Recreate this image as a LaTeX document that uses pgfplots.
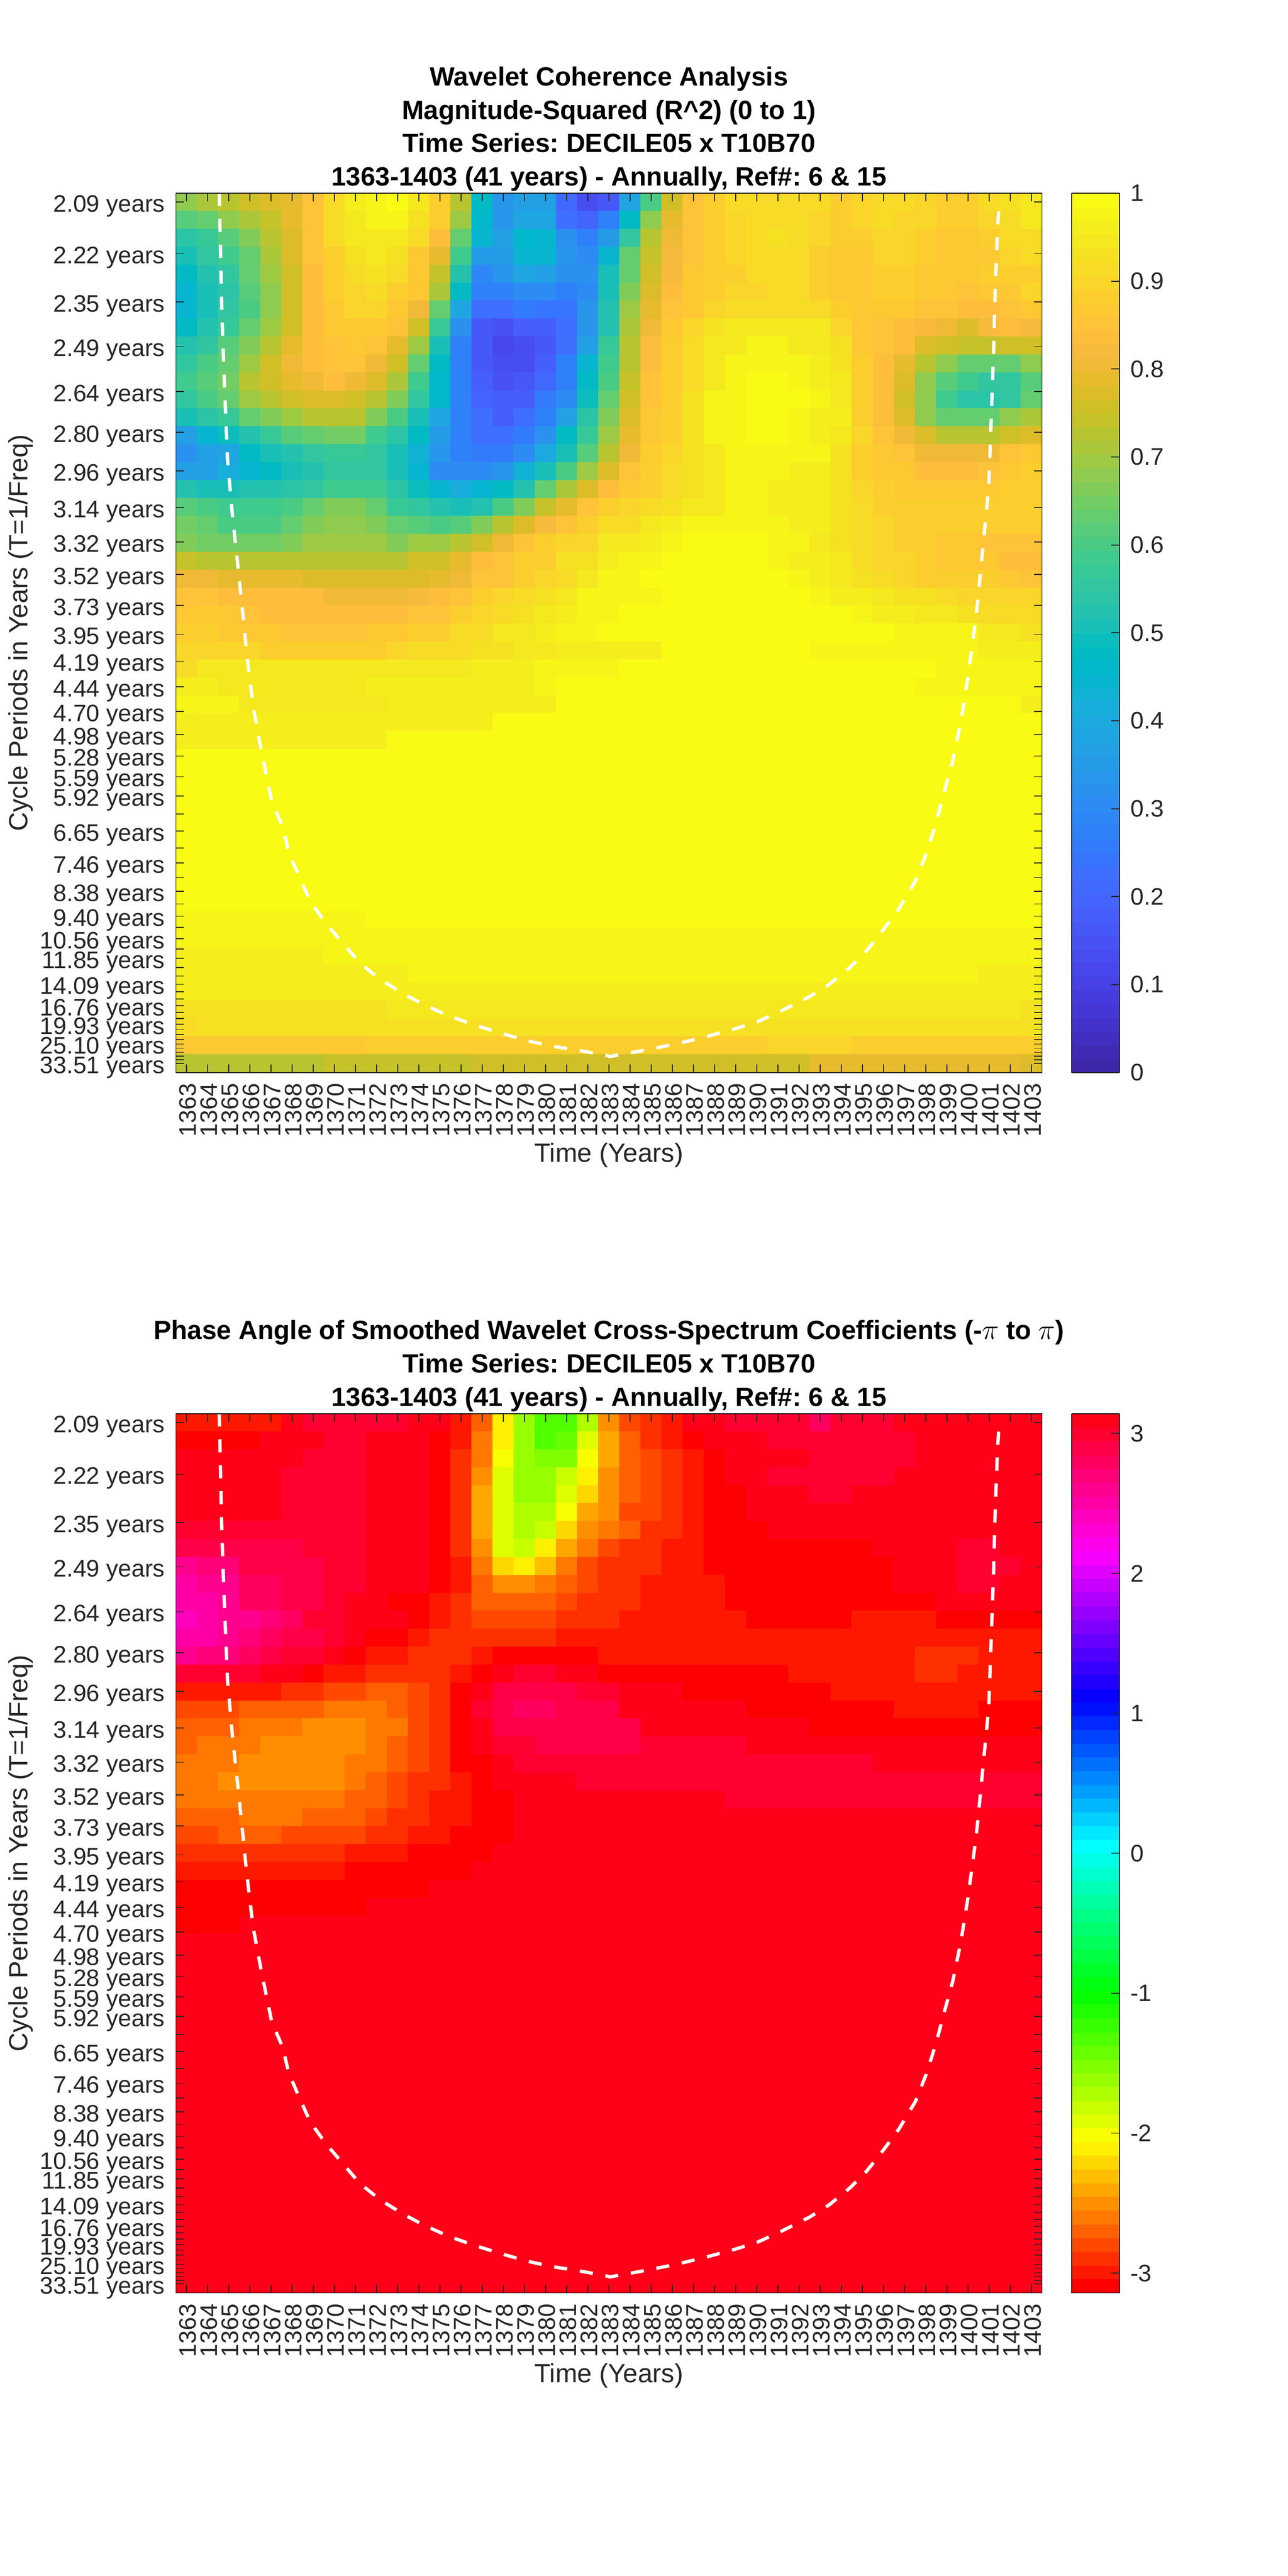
\documentclass[border=0pt]{standalone}
\usepackage{fontspec}
\setmainfont{Liberation Sans}
\usepackage{pgfplots}
\usepackage{pgfplotstable}
\pgfplotsset{compat=1.18}
\definecolor{tk}{RGB}{38,38,38}
\pgfplotsset{colormap={par}{
rgb=(0.2422,0.1504,0.6603) rgb=(0.2504,0.1650,0.7076) rgb=(0.2578,0.1818,0.7511) rgb=(0.2647,0.1978,0.7952)
rgb=(0.2706,0.2147,0.8364) rgb=(0.2751,0.2342,0.8710) rgb=(0.2783,0.2559,0.8991) rgb=(0.2803,0.2782,0.9221)
rgb=(0.2813,0.3006,0.9414) rgb=(0.2810,0.3228,0.9579) rgb=(0.2795,0.3447,0.9717) rgb=(0.2760,0.3667,0.9829)
rgb=(0.2699,0.3892,0.9906) rgb=(0.2602,0.4123,0.9952) rgb=(0.2440,0.4358,0.9988) rgb=(0.2206,0.4603,0.9973)
rgb=(0.1963,0.4847,0.9892) rgb=(0.1834,0.5074,0.9798) rgb=(0.1786,0.5289,0.9682) rgb=(0.1764,0.5499,0.9520)
rgb=(0.1687,0.5703,0.9359) rgb=(0.1540,0.5902,0.9218) rgb=(0.1460,0.6091,0.9079) rgb=(0.1380,0.6276,0.8973)
rgb=(0.1248,0.6459,0.8883) rgb=(0.1113,0.6635,0.8763) rgb=(0.0952,0.6798,0.8598) rgb=(0.0689,0.6948,0.8394)
rgb=(0.0297,0.7082,0.8163) rgb=(0.0036,0.7203,0.7917) rgb=(0.0067,0.7312,0.7660) rgb=(0.0433,0.7411,0.7394)
rgb=(0.0964,0.7500,0.7120) rgb=(0.1408,0.7584,0.6842) rgb=(0.1717,0.7670,0.6554) rgb=(0.1938,0.7758,0.6251)
rgb=(0.2161,0.7843,0.5923) rgb=(0.2470,0.7918,0.5567) rgb=(0.2906,0.7973,0.5188) rgb=(0.3406,0.8008,0.4789)
rgb=(0.3909,0.8029,0.4354) rgb=(0.4456,0.8024,0.3909) rgb=(0.5044,0.7993,0.3480) rgb=(0.5616,0.7942,0.3045)
rgb=(0.6174,0.7876,0.2612) rgb=(0.6720,0.7793,0.2227) rgb=(0.7242,0.7698,0.1910) rgb=(0.7738,0.7598,0.1646)
rgb=(0.8203,0.7498,0.1535) rgb=(0.8634,0.7406,0.1596) rgb=(0.9035,0.7330,0.1774) rgb=(0.9393,0.7288,0.2100)
rgb=(0.9728,0.7298,0.2394) rgb=(0.9956,0.7434,0.2371) rgb=(0.9970,0.7659,0.2199) rgb=(0.9952,0.7861,0.1991)
rgb=(0.9892,0.8086,0.1766) rgb=(0.9786,0.8336,0.1630) rgb=(0.9676,0.8587,0.1490) rgb=(0.9610,0.8837,0.1350)
rgb=(0.9597,0.9088,0.1220) rgb=(0.9628,0.9338,0.1080) rgb=(0.9691,0.9589,0.0950) rgb=(0.9769,0.9839,0.0805)}}
\pgfplotsset{colormap={hsvs}{
rgb255=(255,0,0) rgb255=(255,24,0) rgb255=(255,48,0) rgb255=(255,72,0) rgb255=(255,96,0) rgb255=(255,120,0) rgb255=(255,143,0) rgb255=(255,167,0)
rgb255=(255,191,0) rgb255=(255,215,0) rgb255=(255,239,0) rgb255=(247,255,0) rgb255=(223,255,0) rgb255=(199,255,0) rgb255=(175,255,0) rgb255=(151,255,0)
rgb255=(128,255,0) rgb255=(104,255,0) rgb255=(80,255,0) rgb255=(56,255,0) rgb255=(32,255,0) rgb255=(8,255,0) rgb255=(0,255,16) rgb255=(0,255,40)
rgb255=(0,255,64) rgb255=(0,255,88) rgb255=(0,255,112) rgb255=(0,255,135) rgb255=(0,255,159) rgb255=(0,255,183) rgb255=(0,255,207) rgb255=(0,255,231)
rgb255=(0,255,255) rgb255=(0,231,255) rgb255=(0,207,255) rgb255=(0,183,255) rgb255=(0,159,255) rgb255=(0,135,255) rgb255=(0,112,255) rgb255=(0,88,255)
rgb255=(0,64,255) rgb255=(0,40,255) rgb255=(0,16,255) rgb255=(8,0,255) rgb255=(32,0,255) rgb255=(56,0,255) rgb255=(80,0,255) rgb255=(104,0,255)
rgb255=(128,0,255) rgb255=(151,0,255) rgb255=(175,0,255) rgb255=(199,0,255) rgb255=(223,0,255) rgb255=(247,0,255) rgb255=(255,0,239) rgb255=(255,0,215)
rgb255=(255,0,191) rgb255=(255,0,167) rgb255=(255,0,143) rgb255=(255,0,120) rgb255=(255,0,96) rgb255=(255,0,72) rgb255=(255,0,48) rgb255=(255,0,24)}}

% Magnitude-squared coherence, in hundredths (rows: periods top to bottom; columns: 1363..1403)
\pgfplotstableread[header=false]{
68 71 73 76 78 79 85 91 96 98 99 95 88 73 47 33 36 36 21 13 17 38 60 75 85 88 91 91 92 92 91 89 90 91 92 90 89 89 91 93 95
61 64 68 71 74 79 85 91 95 97 97 93 88 69 46 33 39 38 23 20 27 48 68 79 85 88 90 92 92 92 90 88 90 91 90 90 88 88 90 92 94
54 57 62 67 72 78 85 91 94 95 95 91 83 64 45 36 46 45 32 27 35 56 72 81 85 88 90 91 93 91 90 88 89 90 90 88 87 87 89 91 92
50 55 59 64 71 78 85 89 93 94 93 87 79 58 35 35 45 45 33 31 44 63 74 82 85 88 90 91 91 91 89 87 87 90 90 88 87 87 87 90 91
47 52 56 63 69 76 84 88 91 93 91 87 74 53 29 33 39 37 32 32 50 64 76 82 87 88 89 91 91 91 89 87 87 88 88 87 86 86 88 89 89
44 50 54 61 68 76 83 88 90 91 89 86 71 48 28 28 31 31 28 31 50 66 77 83 87 88 90 90 92 91 88 87 87 88 88 87 86 85 86 87 90
45 50 55 60 68 76 83 87 90 90 86 81 64 38 23 23 25 24 24 33 52 70 79 85 87 90 91 91 92 92 91 88 87 87 86 85 85 83 84 85 86
48 53 57 63 70 76 83 86 87 87 85 76 57 32 17 15 18 18 23 33 52 71 80 87 90 93 95 95 95 95 95 90 87 85 83 82 80 78 82 83 82
53 56 61 66 73 79 83 85 86 85 79 69 50 28 16 11 13 17 22 37 57 72 83 88 91 95 95 98 98 95 95 93 87 85 83 78 75 74 74 75 75
55 60 64 70 75 81 83 85 85 81 75 64 47 27 17 13 13 18 27 44 59 73 83 88 92 94 98 98 98 98 96 93 88 84 79 73 68 63 63 63 68
58 62 65 72 76 79 80 83 81 77 71 59 46 27 18 15 16 21 28 47 60 74 85 88 92 94 98 99 99 98 96 94 88 84 78 68 62 58 55 56 61
56 60 64 70 73 75 77 77 75 72 66 55 46 28 20 18 18 25 31 49 64 75 85 88 93 98 98 99 99 99 98 94 88 84 75 68 58 54 54 56 64
51 54 57 63 66 69 72 72 72 66 60 50 38 28 22 18 22 27 37 54 66 78 86 89 93 98 98 99 99 98 96 96 88 84 77 68 64 64 64 68 71
37 45 49 53 57 61 63 65 65 59 54 47 35 27 23 23 25 32 47 57 69 79 86 88 93 98 98 99 99 98 96 95 90 85 81 77 72 72 72 75 78
32 37 39 47 50 53 55 57 57 55 51 43 33 28 26 26 31 40 51 62 72 81 88 90 93 95 98 98 98 98 98 93 88 87 85 81 81 81 81 85 86
36 37 42 45 48 51 52 56 56 56 50 45 31 30 31 34 43 50 60 69 77 85 88 91 93 95 98 98 98 96 96 93 88 87 86 84 84 84 85 87 89
53 51 51 52 53 54 56 59 59 59 54 49 44 42 44 48 53 63 71 78 83 87 89 91 93 94 98 98 96 96 96 93 90 88 87 87 87 87 87 88 89
62 60 58 58 58 60 64 66 66 64 57 55 52 51 53 60 67 74 79 85 88 90 92 93 95 95 98 98 96 96 96 93 91 89 88 88 88 88 88 88 88
65 63 60 60 60 63 66 68 68 66 64 62 60 62 67 72 78 82 85 88 92 92 94 96 98 98 98 98 98 96 96 93 91 90 88 88 88 88 88 88 88
66 65 65 65 65 67 69 69 69 69 67 69 69 73 76 81 85 88 90 90 94 94 96 98 99 99 99 99 97 97 95 93 91 90 88 88 87 87 85 85 85
74 73 73 73 73 73 73 73 73 73 73 75 76 79 83 85 89 89 93 93 96 98 98 99 99 99 99 99 97 96 96 94 91 90 90 88 87 87 87 84 84
81 81 79 79 79 79 77 77 77 77 77 77 79 81 85 85 88 90 91 94 97 97 99 99 99 99 99 99 99 97 96 94 93 91 90 89 88 88 88 87 85
85 85 84 84 83 83 83 81 81 81 81 82 84 85 89 90 91 93 95 97 98 98 98 99 99 99 99 99 99 99 97 96 96 94 93 93 92 90 90 90 90
87 87 86 85 84 84 83 83 83 83 83 85 85 88 90 92 93 95 96 97 98 99 99 99 99 99 99 99 99 99 99 99 97 96 96 94 94 93 92 92 92
88 88 87 87 86 85 85 85 85 86 86 88 89 91 92 94 95 96 97 98 99 99 99 99 99 99 99 99 99 99 99 99 99 99 97 97 97 97 94 94 93
90 90 90 90 89 89 89 89 89 89 90 91 92 92 93 93 94 94 96 96 96 96 96 99 99 99 99 99 99 99 97 97 97 97 97 97 97 97 96 96 96
92 94 94 94 94 94 94 94 94 94 94 94 94 94 96 96 96 98 98 98 98 99 99 99 99 99 99 99 99 99 99 99 99 99 99 99 97 97 97 97 97
96 96 95 94 94 94 94 94 94 96 96 96 96 96 96 96 96 98 99 99 99 99 99 99 99 99 99 99 99 99 99 99 99 99 99 98 98 98 98 98 98
97 97 97 95 95 95 95 95 95 95 96 96 96 96 96 96 96 96 99 99 99 99 99 99 99 99 99 99 99 99 99 99 99 99 99 99 99 99 99 99 96
96 96 96 96 96 96 96 96 96 96 96 96 96 96 96 99 99 99 99 99 99 99 99 99 99 99 99 99 99 99 99 99 99 99 99 99 99 99 99 99 99
96 96 96 96 96 96 96 96 96 96 99 99 99 99 99 99 99 99 99 99 99 99 99 99 99 99 99 99 99 99 99 99 99 99 99 99 99 99 99 99 99
99 99 99 99 99 99 99 99 99 99 99 99 99 99 99 99 99 99 99 99 99 99 99 99 99 99 99 99 99 99 99 99 99 99 99 99 99 99 99 99 99
99 99 99 99 99 99 99 99 99 99 99 99 99 99 99 99 99 99 99 99 99 99 99 99 99 99 99 99 99 99 99 99 99 99 99 99 99 99 99 99 99
99 99 99 99 99 99 99 99 99 99 99 99 99 99 99 99 99 99 99 99 99 99 99 99 99 99 99 99 99 99 99 99 99 99 99 99 99 99 99 99 99
99 99 99 99 99 99 99 99 99 99 99 99 99 99 99 99 99 99 99 99 99 99 99 99 99 99 99 99 99 99 99 99 99 99 99 99 99 99 99 99 99
99 99 99 99 99 99 99 99 99 99 99 99 99 99 99 99 99 99 99 99 99 99 99 99 99 99 99 99 99 99 99 99 99 99 99 99 99 99 99 99 99
99 99 99 99 99 99 99 99 99 99 99 99 99 99 99 99 99 99 99 99 99 99 99 99 99 99 99 99 99 99 99 99 99 99 99 99 99 99 99 99 99
99 99 99 99 99 99 99 99 99 99 99 99 99 99 99 99 99 99 99 99 99 99 99 99 99 99 99 99 99 99 99 99 99 99 99 99 99 99 99 99 99
99 99 99 99 99 99 99 99 99 99 99 99 99 99 99 99 99 99 99 99 99 99 99 99 99 99 99 99 99 99 99 99 99 99 99 99 99 99 99 99 99
99 99 99 99 99 99 99 99 99 99 99 99 99 99 99 99 99 99 99 99 99 99 99 99 99 99 99 99 99 99 99 99 99 99 99 99 99 99 99 99 99
97 97 97 97 97 97 97 97 97 99 99 99 99 99 99 99 99 99 99 99 99 99 99 99 99 99 99 99 99 99 99 99 99 99 99 99 99 99 99 99 99
98 98 98 98 98 98 98 98 98 98 98 98 98 98 98 98 98 98 98 98 98 98 98 98 98 98 98 98 98 98 98 98 98 98 98 98 98 98 98 98 98
96 96 96 96 96 96 96 98 98 98 98 98 98 98 98 98 98 98 98 98 98 98 98 98 98 98 98 98 98 98 98 98 98 98 98 98 98 98 98 98 98
96 96 96 96 96 96 96 96 96 96 96 97 97 97 97 97 97 97 97 97 97 97 97 97 97 97 97 97 97 97 97 97 97 97 97 97 97 97 96 96 96
96 96 96 96 96 96 96 96 96 96 96 96 96 96 96 96 96 96 96 96 96 96 96 96 96 96 96 96 96 96 96 96 96 96 96 96 96 96 96 96 96
93 93 93 93 93 93 93 93 93 93 94 94 94 94 94 94 94 94 94 94 94 94 94 94 94 94 94 94 94 94 94 94 94 94 94 94 94 94 94 94 93
91 93 93 93 93 93 93 93 93 93 93 93 93 93 93 93 93 93 93 93 93 93 93 93 93 93 93 93 93 93 93 93 93 93 93 93 93 93 93 93 93
87 87 87 87 87 87 87 87 87 88 88 88 88 88 88 88 88 88 88 88 88 88 88 88 88 88 88 88 90 90 90 90 88 88 88 88 88 88 88 88 88
73 73 73 73 73 73 73 74 74 74 74 74 74 74 76 76 76 76 76 76 76 76 76 76 76 76 76 76 76 76 79 79 79 79 79 79 79 79 79 79 78
}\tabA
% Phase angle, in hundredths of a radian
\pgfplotstableread[header=false]{
-299 -299 -299 -299 -299 309 299 299 299 299 299 309 309 -299 -270 -211 -162 -132 -132 -172 -250 -279 -289 -299 309 309 299 299 299 299 279 299 299 299 309 309 309 309 309 309 309
-309 -309 -309 -309 309 309 309 299 299 309 309 309 -309 -299 -260 -211 -162 -132 -142 -191 -240 -270 -289 -299 -309 309 309 309 299 299 299 299 299 299 299 309 309 309 309 309 309
309 309 309 309 309 309 299 299 299 309 309 309 -309 -289 -260 -201 -162 -152 -152 -201 -240 -270 -279 -289 -299 -309 309 309 309 309 299 299 299 299 299 309 309 309 309 309 309
309 309 309 309 309 299 299 299 299 309 309 309 -309 -289 -250 -191 -162 -162 -181 -211 -250 -270 -279 -289 -299 -309 309 309 299 299 299 299 299 299 309 309 309 309 309 309 309
309 309 309 309 309 299 299 299 299 309 309 309 -309 -289 -240 -191 -162 -162 -191 -221 -250 -270 -279 -289 -299 -309 -309 309 309 309 299 299 309 309 309 309 309 309 309 309 309
309 309 309 309 309 299 299 299 299 309 309 309 -309 -289 -240 -191 -172 -172 -201 -240 -250 -279 -279 -289 -299 -309 -309 309 309 309 309 309 309 309 309 309 309 309 309 309 309
299 299 299 299 299 299 299 299 299 309 309 309 -309 -289 -240 -191 -172 -181 -221 -250 -260 -270 -289 -289 -299 -309 -309 -309 309 309 309 309 309 309 309 309 309 309 309 309 309
289 289 289 289 289 289 299 299 299 309 309 309 -309 -289 -250 -191 -181 -211 -240 -260 -279 -289 -289 -299 -299 -309 -309 -309 -309 -309 -309 -309 -309 309 309 309 309 299 299 309 309
260 270 270 289 289 289 289 299 299 309 309 309 -309 -299 -260 -221 -211 -230 -260 -279 -289 -289 -289 -299 -299 -309 -309 -309 -309 -309 -309 -309 -309 -309 309 309 309 299 299 299 309
250 260 260 279 279 289 289 299 299 309 309 309 -309 -299 -270 -250 -250 -260 -270 -279 -289 -289 -299 -299 -299 -299 -309 -309 -309 -309 -309 -309 -309 -309 309 309 309 299 299 309 309
250 250 260 279 279 289 289 299 309 309 -309 -309 -299 -289 -270 -270 -270 -270 -279 -289 -289 -289 -299 -299 -299 -299 -309 -309 -309 -309 -309 -309 -309 -309 -309 -309 309 309 309 309 309
240 250 260 260 270 279 299 299 309 309 309 -309 -299 -289 -279 -279 -279 -279 -289 -289 -289 -299 -299 -299 -299 -299 -299 -309 -309 -309 -309 -309 -299 -299 -299 -299 -309 -309 -309 -309 -309
250 250 260 270 279 289 289 299 309 -309 -309 -299 -289 -289 -289 -289 -289 -289 -299 -299 -299 -299 -299 -299 -299 -299 -299 -299 -299 -299 -299 -299 -299 -299 -299 -299 -299 -299 -299 -299 -299
260 270 270 279 289 299 299 309 -309 -299 -299 -289 -289 -289 -299 -309 -309 -309 -309 -309 -299 -299 -299 -299 -299 -299 -299 -299 -299 -299 -299 -299 -299 -299 -299 -289 -289 -289 -299 -299 -299
299 299 299 299 309 309 -309 -299 -299 -289 -289 -289 -289 -299 -309 309 299 299 309 309 -309 -309 -309 -309 -309 -309 -309 -309 -309 -299 -299 -299 -299 -299 -299 -289 -289 -299 -299 -299 -299
-299 -299 -299 -299 -299 -289 -289 -279 -279 -270 -270 -279 -289 -309 309 289 289 289 289 299 299 309 309 309 -309 -309 -309 -309 -309 -309 -309 -299 -299 -299 -299 -299 -299 -299 -299 -299 -299
-279 -279 -279 -270 -270 -270 -270 -260 -260 -260 -270 -279 -289 -309 299 289 279 279 289 289 289 309 309 309 309 309 309 -309 -309 -309 -309 -309 -309 -309 -299 -299 -299 -299 -309 -309 -309
-270 -270 -270 -260 -260 -260 -250 -250 -250 -260 -260 -279 -289 -309 309 289 289 289 289 289 289 289 309 309 309 309 309 309 309 309 -309 -309 -309 -309 -309 -309 -309 -309 -309 -309 -309
-270 -260 -260 -260 -250 -250 -250 -250 -250 -260 -270 -279 -289 -309 309 299 299 289 289 289 289 289 299 299 299 299 299 309 309 309 309 309 309 309 309 309 309 309 309 309 309
-260 -260 -260 -250 -250 -250 -250 -250 -260 -260 -270 -279 -289 -309 -309 309 299 299 299 299 299 299 299 299 299 299 299 299 299 299 299 299 299 309 309 309 309 309 309 309 309
-260 -260 -250 -250 -250 -250 -250 -250 -260 -270 -279 -289 -289 -299 -309 309 309 309 309 299 299 299 299 299 299 299 299 299 299 299 299 299 299 299 299 299 299 299 299 299 299
-260 -260 -260 -260 -260 -260 -260 -260 -270 -270 -279 -289 -299 -299 -309 -309 309 309 309 309 309 309 309 309 309 309 299 299 299 299 299 299 299 299 299 299 299 299 299 299 299
-270 -270 -270 -260 -260 -260 -270 -270 -270 -279 -289 -289 -299 -299 -309 -309 309 309 309 309 309 309 309 309 309 309 309 309 309 309 309 309 309 309 309 309 309 309 309 309 309
-279 -279 -270 -270 -270 -279 -279 -279 -279 -289 -289 -299 -299 -309 -309 -309 309 309 309 309 309 309 309 309 309 309 309 309 309 309 309 309 309 309 309 309 309 309 309 309 309
-289 -289 -289 -289 -289 -289 -289 -289 -299 -299 -299 -309 -309 -309 -309 309 309 309 309 309 309 309 309 309 309 309 309 309 309 309 309 309 309 309 309 309 309 309 309 309 309
-299 -299 -299 -299 -299 -299 -299 -299 -309 -309 -309 -309 -309 -309 309 309 309 309 309 309 309 309 309 309 309 309 309 309 309 309 309 309 309 309 309 309 309 309 309 309 309
-309 -309 -309 -309 -309 -309 -309 -309 -309 -309 -309 -309 309 309 309 309 309 309 309 309 309 309 309 309 309 309 309 309 309 309 309 309 309 309 309 309 309 309 309 309 309
-309 -309 -309 -309 -309 -309 -309 -309 -309 309 309 309 309 309 309 309 309 309 309 309 309 309 309 309 309 309 309 309 309 309 309 309 309 309 309 309 309 309 309 309 309
-309 -309 -309 309 309 309 309 309 309 309 309 309 309 309 309 309 309 309 309 309 309 309 309 309 309 309 309 309 309 309 309 309 309 309 309 309 309 309 309 309 309
309 309 309 309 309 309 309 309 309 309 309 309 309 309 309 309 309 309 309 309 309 309 309 309 309 309 309 309 309 309 309 309 309 309 309 309 309 309 309 309 309
309 309 309 309 309 309 309 309 309 309 309 309 309 309 309 309 309 309 309 309 309 309 309 309 309 309 309 309 309 309 309 309 309 309 309 309 309 309 309 309 309
309 309 309 309 309 309 309 309 309 309 309 309 309 309 309 309 309 309 309 309 309 309 309 309 309 309 309 309 309 309 309 309 309 309 309 309 309 309 309 309 309
309 309 309 309 309 309 309 309 309 309 309 309 309 309 309 309 309 309 309 309 309 309 309 309 309 309 309 309 309 309 309 309 309 309 309 309 309 309 309 309 309
309 309 309 309 309 309 309 309 309 309 309 309 309 309 309 309 309 309 309 309 309 309 309 309 309 309 309 309 309 309 309 309 309 309 309 309 309 309 309 309 309
309 309 309 309 309 309 309 309 309 309 309 309 309 309 309 309 309 309 309 309 309 309 309 309 309 309 309 309 309 309 309 309 309 309 309 309 309 309 309 309 309
309 309 309 309 309 309 309 309 309 309 309 309 309 309 309 309 309 309 309 309 309 309 309 309 309 309 309 309 309 309 309 309 309 309 309 309 309 309 309 309 309
309 309 309 309 309 309 309 309 309 309 309 309 309 309 309 309 309 309 309 309 309 309 309 309 309 309 309 309 309 309 309 309 309 309 309 309 309 309 309 309 309
309 309 309 309 309 309 309 309 309 309 309 309 309 309 309 309 309 309 309 309 309 309 309 309 309 309 309 309 309 309 309 309 309 309 309 309 309 309 309 309 309
309 309 309 309 309 309 309 309 309 309 309 309 309 309 309 309 309 309 309 309 309 309 309 309 309 309 309 309 309 309 309 309 309 309 309 309 309 309 309 309 309
309 309 309 309 309 309 309 309 309 309 309 309 309 309 309 309 309 309 309 309 309 309 309 309 309 309 309 309 309 309 309 309 309 309 309 309 309 309 309 309 309
309 309 309 309 309 309 309 309 309 309 309 309 309 309 309 309 309 309 309 309 309 309 309 309 309 309 309 309 309 309 309 309 309 309 309 309 309 309 309 309 309
309 309 309 309 309 309 309 309 309 309 309 309 309 309 309 309 309 309 309 309 309 309 309 309 309 309 309 309 309 309 309 309 309 309 309 309 309 309 309 309 309
309 309 309 309 309 309 309 309 309 309 309 309 309 309 309 309 309 309 309 309 309 309 309 309 309 309 309 309 309 309 309 309 309 309 309 309 309 309 309 309 309
309 309 309 309 309 309 309 309 309 309 309 309 309 309 309 309 309 309 309 309 309 309 309 309 309 309 309 309 309 309 309 309 309 309 309 309 309 309 309 309 309
309 309 309 309 309 309 309 309 309 309 309 309 309 309 309 309 309 309 309 309 309 309 309 309 309 309 309 309 309 309 309 309 309 309 309 309 309 309 309 309 309
309 309 309 309 309 309 309 309 309 309 309 309 309 309 309 309 309 309 309 309 309 309 309 309 309 309 309 309 309 309 309 309 309 309 309 309 309 309 309 309 309
309 309 309 309 309 309 309 309 309 309 309 309 309 309 309 309 309 309 309 309 309 309 309 309 309 309 309 309 309 309 309 309 309 309 309 309 309 309 309 309 309
309 309 309 309 309 309 309 309 309 309 309 309 309 309 309 309 309 309 309 309 309 309 309 309 309 309 309 309 309 309 309 309 309 309 309 309 309 309 309 309 309
309 309 309 309 309 309 309 309 309 309 309 309 309 309 309 309 309 309 309 309 309 309 309 309 309 309 309 309 309 309 309 309 309 309 309 309 309 309 309 309 309
}\tabB
\pgfplotstableread{
x y
1364.55 468
1364.59 559
1364.67 750
1364.78 913
1364.94 1114
1365.17 1248
1365.45 1382
1365.72 1516
1365.84 1580
1366.15 1714
1366.54 1821
1367.04 1946
1367.55 2006
1367.84 2069
1368.35 2130
1368.86 2188
1369.60 2241
1370.42 2290
1371.20 2337
1372.17 2377
1373.27 2412
1374.26 2439
1375.43 2466
1376.72 2489
1377.97 2509
1379.31 2528
1380.29 2539
1381.54 2549
1382.82 2561
1383.06 2564
1383.72 2558
1384.87 2547
1386.24 2533
1387.60 2516
1388.89 2498
1389.94 2482
1391.09 2455
1392.46 2420
1393.43 2389
1394.41 2348
1395.19 2308
1395.95 2259
1396.73 2205
1397.51 2138
1398.02 2072
1398.49 1996
1398.88 1920
1399.27 1848
1399.66 1750
1399.97 1652
1400.30 1527
1400.44 1468
1400.71 1324
1400.98 1181
1401.08 1037
1401.20 865
1401.28 712
1401.39 559
1401.47 492
}\tabC
\newcommand\mkstream[2]{%
 \gdef#2{}%
 \foreach \Ri in {0,...,48}{%
  \foreach \Ci in {0,...,40}{%
   \pgfplotstablegetelem{\Ri}{[index]\Ci}\of#1%
   \pgfmathsetmacro\Yy{469+(\Ri+0.5)*43.551}%
   \pgfmathtruncatemacro\Xx{1363+\Ci}%
   \xdef#2{#2 (\Xx,\Yy) [\pgfplotsretval]}%
  }}}
\mkstream{\tabA}{\streamA}
\mkstream{\tabB}{\streamB}
\pgfplotsset{
 hm/.style={matrix plot*,mesh/cols=41,mesh/rows=49,point meta=explicit},
 panel/.style={
  scale only axis,width=525.5pt,height=533.5pt,anchor=south west,
  xmin=1362.5,xmax=1403.5,ymin=469,ymax=2603,y dir=reverse,
  axis on top,enlargelimits=false,
  colormap access=piecewise constant,
  axis line style={line width=0.55pt,color=tk},
  tick style={line width=0.55pt,color=tk},
  tick align=inside,tickpos=both,major tick length=5pt,
  xtick={1363,...,1403},
  xticklabels={1363,1364,1365,1366,1367,1368,1369,1370,1371,1372,1373,1374,1375,1376,1377,1378,1379,1380,1381,1382,1383,1384,1385,1386,1387,1388,1389,1390,1391,1392,1393,1394,1395,1396,1397,1398,1399,1400,1401,1402,1403},
  ytick={490,616,733,841,950,1049,1143,1232,1315,1394,1469,1540,1605,1667,1727,1783,1835,1885,1932,1976,2017,2058,2094,2130,2163,2194,2224,2251,2278,2303,2326,2348,2369,2389,2407,2425,2441,2457,2472,2486,2499,2511,2523,2534,2544,2554,2563,2572,2581},
  yticklabels={2.09 years,2.22 years,2.35 years,2.49 years,2.64 years,2.80 years,2.96 years,3.14 years,3.32 years,3.52 years,3.73 years,3.95 years,4.19 years,4.44 years,4.70 years,4.98 years,5.28 years,5.59 years,5.92 years,{},6.65 years,{},7.46 years,{},8.38 years,{},9.40 years,{},10.56 years,{},11.85 years,{},{},14.09 years,{},{},16.76 years,{},{},19.93 years,{},{},{},25.10 years,{},{},{},{},33.51 years},
  ticklabel style={font=\fontsize{14.5}{14.5}\selectfont,text=tk},
  x tick label style={xshift=0.75pt,yshift=-6.5pt,rotate=90,anchor=east,inner sep=0pt},
  y tick label style={anchor=east,inner sep=0pt,xshift=-6.5pt,yshift=-2.5pt},
  xlabel={Time (Years)},ylabel={Cycle Periods in Years (T=1/Freq)},
  every axis x label/.style={at={(axis description cs:0.5,-0.0942)},anchor=center,font=\fontsize{16}{16}\selectfont,text=tk},
  every axis y label/.style={at={(axis description cs:-0.179,0.5)},anchor=center,rotate=90,font=\fontsize{16}{16}\selectfont,text=tk},
  title style={at={(axis description cs:0.5,1)},anchor=south,align=center,inner sep=0pt,yshift=-5pt,font=\fontsize{16}{20.25}\selectfont\bfseries,text=black},
  colorbar sampled,
 },
 cb/.style={at={(parent axis.north east)},anchor=north west,xshift=9.47pt,width=29pt,
  samples=65,
  axis line style={line width=0.55pt,color=tk},
  tick style={line width=0.55pt,color=tk},
  tick align=inside,major tick length=5pt,ytick pos=right,yticklabel pos=right,
  ticklabel style={font=\fontsize{14.5}{14.5}\selectfont,text=tk},
  y tick label style={anchor=west,inner sep=0pt,xshift=6.5pt},
 },
}
\begin{document}
\frenchspacing
\begin{tikzpicture}
\path[use as bounding box] (0,0) rectangle (781.25pt,1563pt);
\begin{axis}[panel,at={(106.75pt,912.25pt)},colormap name=par,colorbar,point meta min=0,point meta max=100,
  colorbar style={cb,ytick={0,10,20,30,40,50,60,70,80,90,100},yticklabels={0,0.1,0.2,0.3,0.4,0.5,0.6,0.7,0.8,0.9,1}},
  title={Wavelet Coherence Analysis\\Magnitude-Squared (R\^{}2) (0 to 1)\\Time Series: DECILE05 x T10B70\\1363-1403 (41 years) - Annually, Ref\#: 6 \& 15}]
\edef\tmp{\noexpand\addplot[hm] coordinates {\streamA};}\tmp
\addplot[white,line width=2pt,dash pattern=on 8pt off 7.75pt,no marks,forget plot] table[x=x,y=y] {\tabC};
\end{axis}
\begin{axis}[panel,at={(106.75pt,171.75pt)},colormap name=hsvs,colorbar,point meta min=-314.16,point meta max=314.16,
  colorbar style={cb,ytick={-300,-200,-100,0,100,200,300},yticklabels={-3,-2,-1,0,1,2,3}},
  title={Phase Angle of Smoothed Wavelet Cross-Spectrum Coefficients (-$\pi$ to $\pi$)\\Time Series: DECILE05 x T10B70\\1363-1403 (41 years) - Annually, Ref\#: 6 \& 15}]
\edef\tmp{\noexpand\addplot[hm] coordinates {\streamB};}\tmp
\addplot[white,line width=2pt,dash pattern=on 8pt off 7.75pt,no marks,forget plot] table[x=x,y=y] {\tabC};
\end{axis}
\end{tikzpicture}
\end{document}
